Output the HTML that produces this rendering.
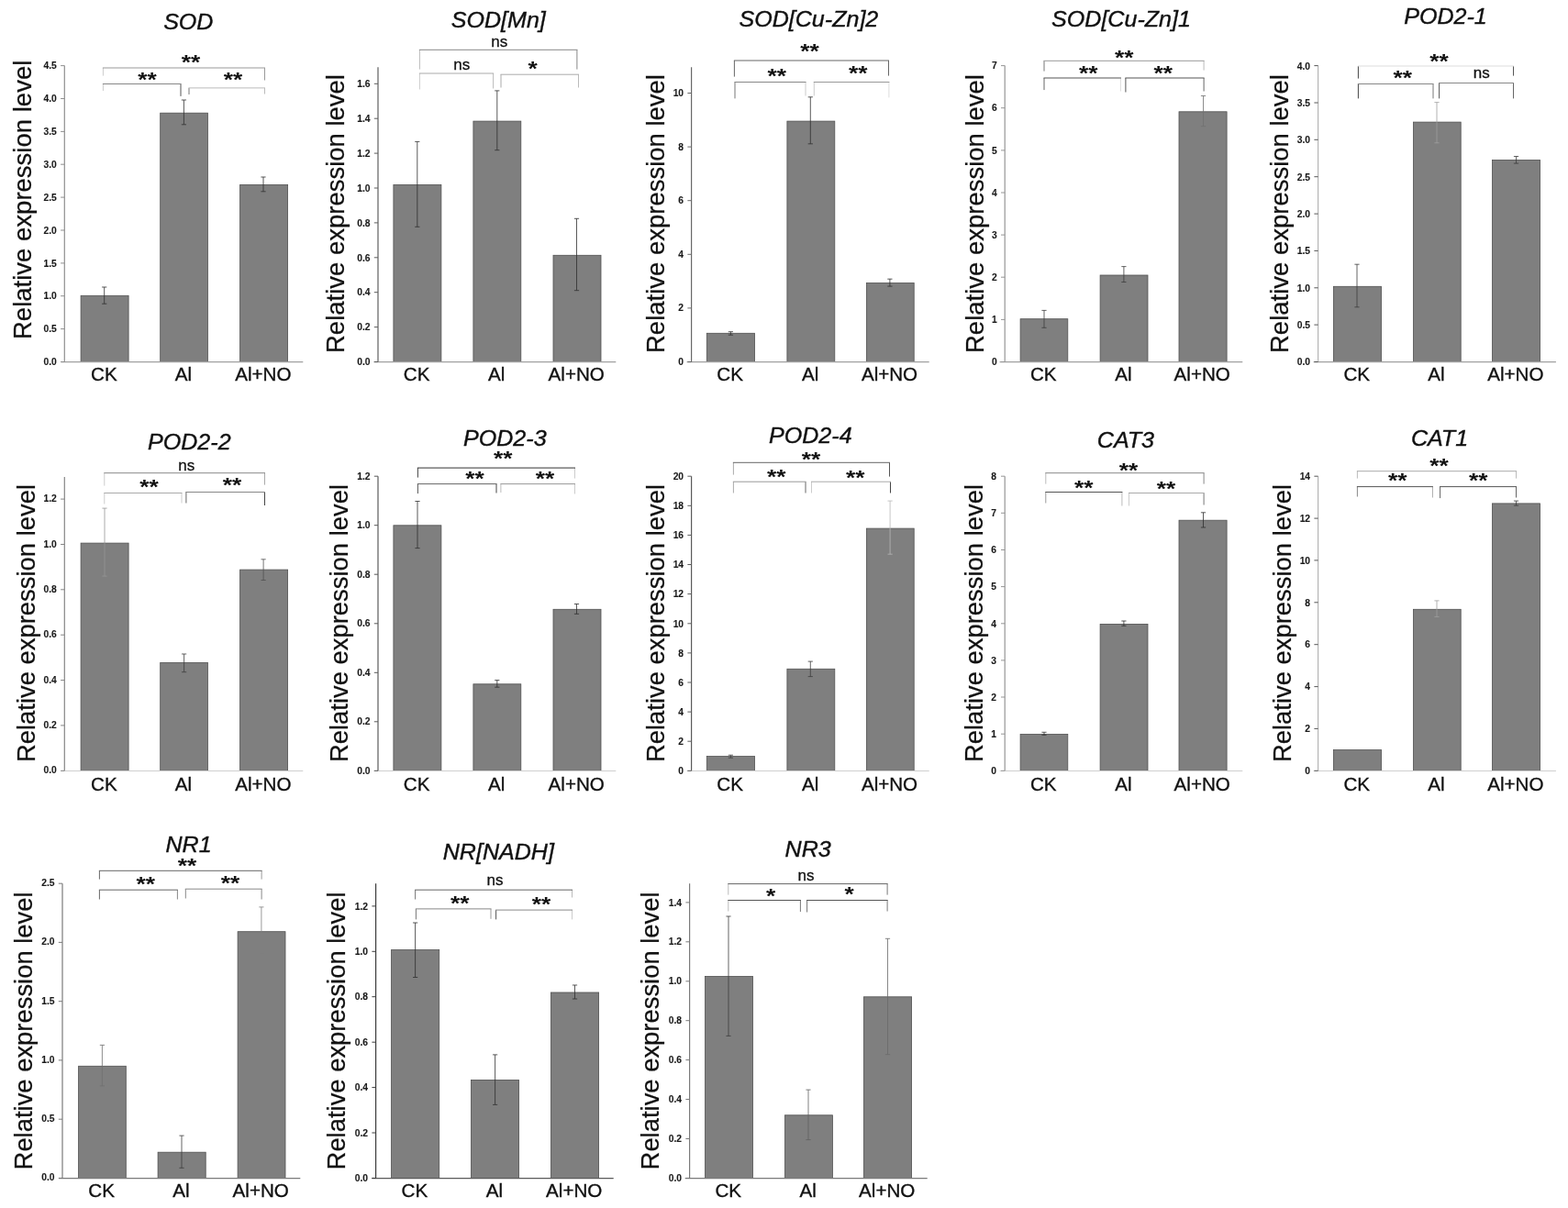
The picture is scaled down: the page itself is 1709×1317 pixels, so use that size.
<!DOCTYPE html>
<html lang="en">
<head>
<meta charset="utf-8">
<title>Relative expression level</title>
<style>
html,body{margin:0;padding:0;background:#fff}
body{width:1709px;height:1317px;overflow:hidden}
svg{display:block;font-family:"Liberation Sans",sans-serif;fill:#111}
.tk{font-size:10.3px;font-weight:bold;text-anchor:end;fill:#1a1a1a;stroke:#1a1a1a;stroke-width:.12px}
.ct{font-size:20.6px;text-anchor:middle;stroke:#111;stroke-width:.35px}
.tt{font-size:24px;font-style:italic;text-anchor:middle;stroke:#111;stroke-width:.4px}
.yl{stroke:#111;stroke-width:.25px}
.ns{font-size:17.0px;text-anchor:middle;stroke:#111;stroke-width:.3px}
.as{font-size:22.5px;font-weight:bold;text-anchor:middle}
</style>
</head>
<body>
<svg width="1709" height="1317" viewBox="0 0 1709 1317" role="img" aria-label="Relative expression level of antioxidant enzyme and nitrate reductase genes under CK, Al and Al+NO treatments">
<rect width="1709" height="1317" fill="#fff"/>
<g>
<rect x="88.1" y="322.3" width="52" height="72.2" fill="#7f7f7f" stroke="#505050" stroke-width="0.8"/>
<rect x="174.7" y="123.2" width="51.7" height="271.3" fill="#7f7f7f" stroke="#505050" stroke-width="0.8"/>
<rect x="261.6" y="201.4" width="52" height="193.1" fill="#7f7f7f" stroke="#505050" stroke-width="0.8"/>
<path d="M66.5 394.7H330.3" stroke="#a0a0a0" stroke-width="1.2" fill="none"/>
<path d="M70.3 71.6V394.5" stroke="#8f8f8f" stroke-width="1.2" fill="none"/>
<path d="M66.1 394.5H70.3M66.1 358.6H70.3M66.1 322.7H70.3M66.1 286.9H70.3M66.1 251H70.3M66.1 215.1H70.3M66.1 179.2H70.3M66.1 143.4H70.3M66.1 107.5H70.3M66.1 71.6H70.3" stroke="#8f8f8f" stroke-width="1" fill="none"/>
<text class="tk" transform="translate(61.8 398.2) scale(1.0 1)">0.0</text>
<text class="tk" transform="translate(61.8 362.3) scale(1.0 1)">0.5</text>
<text class="tk" transform="translate(61.8 326.4) scale(1.0 1)">1.0</text>
<text class="tk" transform="translate(61.8 290.6) scale(1.0 1)">1.5</text>
<text class="tk" transform="translate(61.8 254.7) scale(1.0 1)">2.0</text>
<text class="tk" transform="translate(61.8 218.8) scale(1.0 1)">2.5</text>
<text class="tk" transform="translate(61.8 182.9) scale(1.0 1)">3.0</text>
<text class="tk" transform="translate(61.8 147.1) scale(1.0 1)">3.5</text>
<text class="tk" transform="translate(61.8 111.2) scale(1.0 1)">4.0</text>
<text class="tk" transform="translate(61.8 75.3) scale(1.0 1)">4.5</text>
<path d="M113.7 313V331.2M111.1 313H116.3M111.1 331.2H116.3" stroke="#2e2e2e" stroke-width="0.8" fill="none"/>
<path d="M200.4 109V135.8M197.8 109H203M197.8 135.8H203" stroke="#2e2e2e" stroke-width="0.8" fill="none"/>
<path d="M287 193V208.8M284.4 193H289.6M284.4 208.8H289.6" stroke="#2e2e2e" stroke-width="0.8" fill="none"/>
<path d="M112.4 82.6V74" stroke="#ccc" fill="none"/>
<path d="M288.5 87.5V74" stroke="#999" fill="none"/>
<path d="M111.9 74H289" stroke="#999" fill="none"/>
<text class="as" transform="translate(208 74.9) scale(1.17 1)">**</text>
<path d="M112.4 99V91.5" stroke="#ccc" fill="none"/>
<path d="M197 104.9V91.5" stroke="#555" fill="none"/>
<path d="M111.9 91.5H197.5" stroke="#888" fill="none"/>
<text class="as" transform="translate(160.4 94.2) scale(1.17 1)">**</text>
<path d="M206 103V95.9" stroke="#777" fill="none"/>
<path d="M288.5 102.5V95.9" stroke="#bbb" fill="none"/>
<path d="M205.5 95.9H289" stroke="#bbb" fill="none"/>
<text class="as" transform="translate(254 93.8) scale(1.17 1)">**</text>
<text class="ct" transform="translate(113.3 415.4)">CK</text>
<text class="ct" transform="translate(199.8 415.4)">Al</text>
<text class="ct" transform="translate(286.8 415.4)">Al+NO</text>
<text class="tt" transform="translate(205.3 32.2) scale(1.045 1)">SOD</text>
<text class="yl" font-size="28" transform="translate(33.6 370) rotate(-90) scale(0.983 1)">Relative expression level</text>
</g>
<g>
<rect x="428.9" y="201.4" width="52" height="193.1" fill="#7f7f7f" stroke="#505050" stroke-width="0.8"/>
<rect x="515.9" y="132.1" width="51.9" height="262.4" fill="#7f7f7f" stroke="#505050" stroke-width="0.8"/>
<rect x="603" y="278.3" width="52" height="116.2" fill="#7f7f7f" stroke="#505050" stroke-width="0.8"/>
<path d="M407.6 394.7H671.3" stroke="#a0a0a0" stroke-width="1.2" fill="none"/>
<path d="M412 73.2V394.5" stroke="#5e5e5e" stroke-width="1.2" fill="none"/>
<path d="M407.8 394.5H412M407.8 356.6H412M407.8 318.7H412M407.8 280.8H412M407.8 242.9H412M407.8 205H412M407.8 167.1H412M407.8 129.2H412M407.8 91.3H412" stroke="#5e5e5e" stroke-width="1" fill="none"/>
<text class="tk" transform="translate(403.5 398.2) scale(1.0 1)">0.0</text>
<text class="tk" transform="translate(403.5 360.3) scale(1.0 1)">0.2</text>
<text class="tk" transform="translate(403.5 322.4) scale(1.0 1)">0.4</text>
<text class="tk" transform="translate(403.5 284.5) scale(1.0 1)">0.6</text>
<text class="tk" transform="translate(403.5 246.6) scale(1.0 1)">0.8</text>
<text class="tk" transform="translate(403.5 208.7) scale(1.0 1)">1.0</text>
<text class="tk" transform="translate(403.5 170.8) scale(1.0 1)">1.2</text>
<text class="tk" transform="translate(403.5 132.9) scale(1.0 1)">1.4</text>
<text class="tk" transform="translate(403.5 95) scale(1.0 1)">1.6</text>
<path d="M454.8 154.4V247.3M452.2 154.4H457.4M452.2 247.3H457.4" stroke="#2e2e2e" stroke-width="0.8" fill="none"/>
<path d="M541.8 98.9V163.7M539.2 98.9H544.4M539.2 163.7H544.4" stroke="#2e2e2e" stroke-width="0.8" fill="none"/>
<path d="M628.5 238.3V316.7M625.9 238.3H631.1M625.9 316.7H631.1" stroke="#2e2e2e" stroke-width="0.8" fill="none"/>
<path d="M457.4 75.6V54.3" stroke="#bbb" fill="none"/>
<path d="M628.9 75.6V54.3" stroke="#888" fill="none"/>
<path d="M456.9 54.3H629.4" stroke="#888" fill="none"/>
<text class="ns" x="544.3" y="50.7">ns</text>
<path d="M457.4 97.5V80" stroke="#ccc" fill="none"/>
<path d="M537.6 96.5V80" stroke="#bbb" fill="none"/>
<path d="M456.9 80H538.1" stroke="#aaa" fill="none"/>
<text class="ns" x="503.2" y="75.6">ns</text>
<path d="M546 95.5V81.2" stroke="#aaa" fill="none"/>
<path d="M630.5 95.5V81.2" stroke="#bbb" fill="none"/>
<path d="M545.5 81.2H631" stroke="#aaa" fill="none"/>
<text class="as" transform="translate(580.7 81.8) scale(1.17 1)">*</text>
<text class="ct" transform="translate(454.1 415.4)">CK</text>
<text class="ct" transform="translate(541.1 415.4)">Al</text>
<text class="ct" transform="translate(628.2 415.4)">Al+NO</text>
<text class="tt" transform="translate(543.3 29.7) scale(1.045 1)">SOD[Mn]</text>
<text class="yl" font-size="28" transform="translate(374.6 385) rotate(-90) scale(0.982 1)">Relative expression level</text>
</g>
<g>
<rect x="770.3" y="363.3" width="52.2" height="31.2" fill="#7f7f7f" stroke="#505050" stroke-width="0.8"/>
<rect x="857.9" y="132.1" width="51.9" height="262.4" fill="#7f7f7f" stroke="#505050" stroke-width="0.8"/>
<rect x="944.4" y="308.5" width="51.8" height="86" fill="#7f7f7f" stroke="#505050" stroke-width="0.8"/>
<path d="M748.6 394.7H1012.7" stroke="#a0a0a0" stroke-width="1.2" fill="none"/>
<path d="M753.6 73.2V394.5" stroke="#686868" stroke-width="1.2" fill="none"/>
<path d="M749.4 394.5H753.6M749.4 335.9H753.6M749.4 277.3H753.6M749.4 218.7H753.6M749.4 160.1H753.6M749.4 101.5H753.6" stroke="#686868" stroke-width="1" fill="none"/>
<text class="tk" transform="translate(745.1 398) scale(1.0 1)">0</text>
<text class="tk" transform="translate(745.1 339.4) scale(1.0 1)">2</text>
<text class="tk" transform="translate(745.1 280.8) scale(1.0 1)">4</text>
<text class="tk" transform="translate(745.1 222.2) scale(1.0 1)">6</text>
<text class="tk" transform="translate(745.1 163.6) scale(1.0 1)">8</text>
<text class="tk" transform="translate(745.1 105) scale(1.0 1)">10</text>
<path d="M796.4 361.7V365.2M793.8 361.7H799M793.8 365.2H799" stroke="#2e2e2e" stroke-width="0.8" fill="none"/>
<path d="M883.3 105.8V156.8M880.7 105.8H885.9M880.7 156.8H885.9" stroke="#2e2e2e" stroke-width="0.8" fill="none"/>
<path d="M969.9 304.2V312.1M967.3 304.2H972.5M967.3 312.1H972.5" stroke="#2e2e2e" stroke-width="0.8" fill="none"/>
<path d="M800.4 83.6V66" stroke="#666" fill="none"/>
<path d="M968.5 82.6V66" stroke="#666" fill="none"/>
<path d="M799.9 66H969" stroke="#666" fill="none"/>
<text class="as" transform="translate(882.5 62.9) scale(1.17 1)">**</text>
<path d="M801 107.4V89.5" stroke="#777" fill="none"/>
<path d="M878 104.5V89.5" stroke="#ccc" fill="none"/>
<path d="M800.5 89.5H878.5" stroke="#888" fill="none"/>
<text class="as" transform="translate(846.7 90.4) scale(1.17 1)">**</text>
<path d="M887.3 104.5V89.5" stroke="#ccc" fill="none"/>
<path d="M968.9 106.4V89.5" stroke="#ddd" fill="none"/>
<path d="M886.8 89.5H969.4" stroke="#999" fill="none"/>
<text class="as" transform="translate(935.3 87.4) scale(1.17 1)">**</text>
<text class="ct" transform="translate(795.6 415.4)">CK</text>
<text class="ct" transform="translate(883.1 415.4)">Al</text>
<text class="ct" transform="translate(969.5 415.4)">Al+NO</text>
<text class="tt" transform="translate(881.4 28.8) scale(1.045 1)">SOD[Cu-Zn]2</text>
<text class="yl" font-size="28" transform="translate(724.3 385) rotate(-90) scale(0.982 1)">Relative expression level</text>
</g>
<g>
<rect x="1112.1" y="347.7" width="51.7" height="46.8" fill="#7f7f7f" stroke="#505050" stroke-width="0.8"/>
<rect x="1199.1" y="300" width="51.9" height="94.5" fill="#7f7f7f" stroke="#505050" stroke-width="0.8"/>
<rect x="1285" y="121.8" width="52.1" height="272.7" fill="#7f7f7f" stroke="#505050" stroke-width="0.8"/>
<path d="M1089.6 394.7H1354.3" stroke="#a0a0a0" stroke-width="1.2" fill="none"/>
<path d="M1095.2 71.6V394.5" stroke="#969696" stroke-width="1.2" fill="none"/>
<path d="M1091 394.5H1095.2M1091 348.4H1095.2M1091 302.2H1095.2M1091 256.1H1095.2M1091 210H1095.2M1091 163.9H1095.2M1091 117.7H1095.2M1091 71.6H1095.2" stroke="#969696" stroke-width="1" fill="none"/>
<text class="tk" transform="translate(1086.7 398.2) scale(1.0 1)">0</text>
<text class="tk" transform="translate(1086.7 352.1) scale(1.0 1)">1</text>
<text class="tk" transform="translate(1086.7 305.9) scale(1.0 1)">2</text>
<text class="tk" transform="translate(1086.7 259.8) scale(1.0 1)">3</text>
<text class="tk" transform="translate(1086.7 213.7) scale(1.0 1)">4</text>
<text class="tk" transform="translate(1086.7 167.6) scale(1.0 1)">5</text>
<text class="tk" transform="translate(1086.7 121.4) scale(1.0 1)">6</text>
<text class="tk" transform="translate(1086.7 75.3) scale(1.0 1)">7</text>
<path d="M1138 338.4V357.3M1135.4 338.4H1140.6M1135.4 357.3H1140.6" stroke="#3c3c3c" stroke-width="0.8" fill="none"/>
<path d="M1224.9 290.6V307.5M1222.3 290.6H1227.5M1222.3 307.5H1227.5" stroke="#3c3c3c" stroke-width="0.8" fill="none"/>
<path d="M1311.5 104.5V137.7M1308.9 104.5H1314.1M1308.9 137.7H1314.1" stroke="#707070" stroke-width="0.8" fill="none"/>
<path d="M1138 77.6V66.3" stroke="#777" fill="none"/>
<path d="M1312.1 76.6V66.3" stroke="#bbb" fill="none"/>
<path d="M1137.5 66.3H1312.6" stroke="#999" fill="none"/>
<text class="as" transform="translate(1225.3 69.9) scale(1.17 1)">**</text>
<path d="M1138 98.1V85" stroke="#666" fill="none"/>
<path d="M1221.4 99.5V85" stroke="#ddd" fill="none"/>
<path d="M1137.5 85H1221.9" stroke="#555" fill="none"/>
<text class="as" transform="translate(1186.3 87.4) scale(1.17 1)">**</text>
<path d="M1226.9 100.5V85" stroke="#555" fill="none"/>
<path d="M1312.1 99.5V85" stroke="#666" fill="none"/>
<path d="M1226.4 85H1312.6" stroke="#555" fill="none"/>
<text class="as" transform="translate(1267.7 87.4) scale(1.17 1)">**</text>
<text class="ct" transform="translate(1137.2 415.4)">CK</text>
<text class="ct" transform="translate(1224.3 415.4)">Al</text>
<text class="ct" transform="translate(1310.2 415.4)">Al+NO</text>
<text class="tt" transform="translate(1222 28.8) scale(1.045 1)">SOD[Cu-Zn]1</text>
<text class="yl" font-size="28" transform="translate(1071.5 385) rotate(-90) scale(0.982 1)">Relative expression level</text>
</g>
<g>
<rect x="1453.4" y="312.3" width="52.1" height="82.2" fill="#7f7f7f" stroke="#505050" stroke-width="0.8"/>
<rect x="1540.5" y="133.1" width="51.7" height="261.4" fill="#7f7f7f" stroke="#505050" stroke-width="0.8"/>
<rect x="1626.5" y="174.5" width="52.1" height="220" fill="#7f7f7f" stroke="#505050" stroke-width="0.8"/>
<path d="M1431.7 394.7H1695.9" stroke="#a0a0a0" stroke-width="1.2" fill="none"/>
<path d="M1436.6 71.6V394.5" stroke="#b4b4b4" stroke-width="1.2" fill="none"/>
<path d="M1432.4 394.5H1436.6M1432.4 354.1H1436.6M1432.4 313.8H1436.6M1432.4 273.4H1436.6M1432.4 233.1H1436.6M1432.4 192.7H1436.6M1432.4 152.3H1436.6M1432.4 112H1436.6M1432.4 71.6H1436.6" stroke="#555" stroke-width="1" fill="none"/>
<text class="tk" transform="translate(1428.1 398.4) scale(1.0 1)">0.0</text>
<text class="tk" transform="translate(1428.1 358) scale(1.0 1)">0.5</text>
<text class="tk" transform="translate(1428.1 317.7) scale(1.0 1)">1.0</text>
<text class="tk" transform="translate(1428.1 277.3) scale(1.0 1)">1.5</text>
<text class="tk" transform="translate(1428.1 236.9) scale(1.0 1)">2.0</text>
<text class="tk" transform="translate(1428.1 196.6) scale(1.0 1)">2.5</text>
<text class="tk" transform="translate(1428.1 156.2) scale(1.0 1)">3.0</text>
<text class="tk" transform="translate(1428.1 115.9) scale(1.0 1)">3.5</text>
<text class="tk" transform="translate(1428.1 75.5) scale(1.0 1)">4.0</text>
<path d="M1479 288.2V334.8M1476.4 288.2H1481.6M1476.4 334.8H1481.6" stroke="#3c3c3c" stroke-width="0.8" fill="none"/>
<path d="M1566 111.6V155.8M1563.4 111.6H1568.6M1563.4 155.8H1568.6" stroke="#a0a0a0" stroke-width="0.8" fill="none"/>
<path d="M1652.5 170.5V178.1M1649.9 170.5H1655.1M1649.9 178.1H1655.1" stroke="#3c3c3c" stroke-width="0.8" fill="none"/>
<path d="M1480.4 85.6V72" stroke="#444" fill="none"/>
<path d="M1649.5 82.6V72" stroke="#555" fill="none"/>
<path d="M1479.9 72H1650" stroke="#ddd" fill="none"/>
<text class="as" transform="translate(1568.6 73.9) scale(1.17 1)">**</text>
<path d="M1480.4 107.4V91.5" stroke="#444" fill="none"/>
<path d="M1562 107.4V91.5" stroke="#777" fill="none"/>
<path d="M1479.9 91.5H1562.5" stroke="#888" fill="none"/>
<text class="as" transform="translate(1528.8 92.4) scale(1.17 1)">**</text>
<path d="M1568.6 107.4V90.5" stroke="#555" fill="none"/>
<path d="M1649.5 107.4V90.5" stroke="#666" fill="none"/>
<path d="M1568.1 90.5H1650" stroke="#888" fill="none"/>
<text class="ns" x="1614.7" y="85.2">ns</text>
<text class="ct" transform="translate(1478.7 415.4)">CK</text>
<text class="ct" transform="translate(1565.5 415.4)">Al</text>
<text class="ct" transform="translate(1651.8 415.4)">Al+NO</text>
<text class="tt" transform="translate(1575.5 25.8) scale(1.045 1)">POD2-1</text>
<text class="yl" font-size="28" transform="translate(1403.6 385) rotate(-90) scale(0.982 1)">Relative expression level</text>
</g>
<g>
<rect x="88.1" y="592.1" width="52" height="248.2" fill="#7f7f7f" stroke="#505050" stroke-width="0.8"/>
<rect x="174.7" y="722.5" width="51.7" height="117.8" fill="#7f7f7f" stroke="#505050" stroke-width="0.8"/>
<rect x="261.6" y="621.1" width="52" height="219.2" fill="#7f7f7f" stroke="#505050" stroke-width="0.8"/>
<path d="M66.5 840.5H330.3" stroke="#cfcfcf" stroke-width="1.2" fill="none"/>
<path d="M70.3 520V840.3" stroke="#858585" stroke-width="1.2" fill="none"/>
<path d="M66.1 840.3H70.3M66.1 790.9H70.3M66.1 741.6H70.3M66.1 692.2H70.3M66.1 642.8H70.3M66.1 593.5H70.3M66.1 544.1H70.3" stroke="#858585" stroke-width="1" fill="none"/>
<text class="tk" transform="translate(61.8 843.4) scale(1.0 1)">0.0</text>
<text class="tk" transform="translate(61.8 794) scale(1.0 1)">0.2</text>
<text class="tk" transform="translate(61.8 744.7) scale(1.0 1)">0.4</text>
<text class="tk" transform="translate(61.8 695.3) scale(1.0 1)">0.6</text>
<text class="tk" transform="translate(61.8 645.9) scale(1.0 1)">0.8</text>
<text class="tk" transform="translate(61.8 596.6) scale(1.0 1)">1.0</text>
<text class="tk" transform="translate(61.8 547.2) scale(1.0 1)">1.2</text>
<path d="M114 554.1V628.1M111.4 554.1H116.6M111.4 628.1H116.6" stroke="#969696" stroke-width="0.8" fill="none"/>
<path d="M200.6 713V732.7M198 713H203.2M198 732.7H203.2" stroke="#3c3c3c" stroke-width="0.8" fill="none"/>
<path d="M287.1 609.8V632.5M284.5 609.8H289.7M284.5 632.5H289.7" stroke="#505050" stroke-width="0.8" fill="none"/>
<path d="M113.8 529.6V515.7" stroke="#ccc" fill="none"/>
<path d="M288.5 528.6V515.7" stroke="#aaa" fill="none"/>
<path d="M113.3 515.7H289" stroke="#888" fill="none"/>
<text class="ns" x="203.3" y="513.3">ns</text>
<path d="M113.8 549.5V537.5" stroke="#ccc" fill="none"/>
<path d="M198 548.5V537.5" stroke="#ccc" fill="none"/>
<path d="M113.3 537.5H198.5" stroke="#aaa" fill="none"/>
<text class="as" transform="translate(162.6 537.8) scale(1.17 1)">**</text>
<path d="M202.9 548.5V536.5" stroke="#666" fill="none"/>
<path d="M288.5 551V536.5" stroke="#444" fill="none"/>
<path d="M202.4 536.5H289" stroke="#888" fill="none"/>
<text class="as" transform="translate(253.1 536.4) scale(1.17 1)">**</text>
<text class="ct" transform="translate(113.3 861.9)">CK</text>
<text class="ct" transform="translate(199.8 861.9)">Al</text>
<text class="ct" transform="translate(286.8 861.9)">Al+NO</text>
<text class="tt" transform="translate(206.3 490.3) scale(1.045 1)">POD2-2</text>
<text class="yl" font-size="28" transform="translate(37.9 831) rotate(-90) scale(0.979 1)">Relative expression level</text>
</g>
<g>
<rect x="428.9" y="572.8" width="52" height="267.5" fill="#7f7f7f" stroke="#505050" stroke-width="0.8"/>
<rect x="515.9" y="745.8" width="51.9" height="94.5" fill="#7f7f7f" stroke="#505050" stroke-width="0.8"/>
<rect x="603" y="664.3" width="52" height="176" fill="#7f7f7f" stroke="#505050" stroke-width="0.8"/>
<path d="M407.6 840.5H671.3" stroke="#cfcfcf" stroke-width="1.2" fill="none"/>
<path d="M412 519.2V840.3" stroke="#5a5a5a" stroke-width="1.2" fill="none"/>
<path d="M407.8 840.3H412M407.8 786.8H412M407.8 733.3H412M407.8 679.8H412M407.8 626.2H412M407.8 572.7H412M407.8 519.2H412" stroke="#5a5a5a" stroke-width="1" fill="none"/>
<text class="tk" transform="translate(403.5 843.9) scale(1.0 1)">0.0</text>
<text class="tk" transform="translate(403.5 790.4) scale(1.0 1)">0.2</text>
<text class="tk" transform="translate(403.5 736.9) scale(1.0 1)">0.4</text>
<text class="tk" transform="translate(403.5 683.4) scale(1.0 1)">0.6</text>
<text class="tk" transform="translate(403.5 629.8) scale(1.0 1)">0.8</text>
<text class="tk" transform="translate(403.5 576.3) scale(1.0 1)">1.0</text>
<text class="tk" transform="translate(403.5 522.8) scale(1.0 1)">1.2</text>
<path d="M455 546.5V597.6M452.4 546.5H457.6M452.4 597.6H457.6" stroke="#2e2e2e" stroke-width="0.8" fill="none"/>
<path d="M541.8 741.6V749.2M539.2 741.6H544.4M539.2 749.2H544.4" stroke="#2e2e2e" stroke-width="0.8" fill="none"/>
<path d="M628.5 658.5V669.3M625.9 658.5H631.1M625.9 669.3H631.1" stroke="#2e2e2e" stroke-width="0.8" fill="none"/>
<path d="M455.4 520.6V510.1" stroke="#444" fill="none"/>
<path d="M626.5 521.6V510.1" stroke="#ccc" fill="none"/>
<path d="M454.9 510.1H627" stroke="#333" fill="none"/>
<text class="as" transform="translate(548.3 507) scale(1.17 1)">**</text>
<path d="M455.4 538.1V527.6" stroke="#555" fill="none"/>
<path d="M541 537.5V527.6" stroke="#444" fill="none"/>
<path d="M454.9 527.6H541.5" stroke="#666" fill="none"/>
<text class="as" transform="translate(517.5 528.8) scale(1.17 1)">**</text>
<path d="M545.9 537V527.6" stroke="#bbb" fill="none"/>
<path d="M626.5 538.5V527.6" stroke="#ccc" fill="none"/>
<path d="M545.4 527.6H627" stroke="#999" fill="none"/>
<text class="as" transform="translate(594.1 528.8) scale(1.17 1)">**</text>
<text class="ct" transform="translate(454.1 861.9)">CK</text>
<text class="ct" transform="translate(541.1 861.9)">Al</text>
<text class="ct" transform="translate(628.2 861.9)">Al+NO</text>
<text class="tt" transform="translate(550.3 485.7) scale(1.045 1)">POD2-3</text>
<text class="yl" font-size="28" transform="translate(378.9 831) rotate(-90) scale(0.979 1)">Relative expression level</text>
</g>
<g>
<rect x="770.3" y="824.6" width="52.2" height="15.7" fill="#7f7f7f" stroke="#505050" stroke-width="0.8"/>
<rect x="857.9" y="729.3" width="51.9" height="111" fill="#7f7f7f" stroke="#505050" stroke-width="0.8"/>
<rect x="944.4" y="576.1" width="51.8" height="264.2" fill="#7f7f7f" stroke="#505050" stroke-width="0.8"/>
<path d="M748.6 840.5H1012.7" stroke="#cfcfcf" stroke-width="1.2" fill="none"/>
<path d="M753.6 519.2V840.3" stroke="#5a5a5a" stroke-width="1.2" fill="none"/>
<path d="M749.4 840.3H753.6M749.4 808.2H753.6M749.4 776.1H753.6M749.4 744H753.6M749.4 711.9H753.6M749.4 679.8H753.6M749.4 647.6H753.6M749.4 615.5H753.6M749.4 583.4H753.6M749.4 551.3H753.6M749.4 519.2H753.6" stroke="#5a5a5a" stroke-width="1" fill="none"/>
<text class="tk" transform="translate(745.1 844) scale(1.0 1)">0</text>
<text class="tk" transform="translate(745.1 811.9) scale(1.0 1)">2</text>
<text class="tk" transform="translate(745.1 779.8) scale(1.0 1)">4</text>
<text class="tk" transform="translate(745.1 747.7) scale(1.0 1)">6</text>
<text class="tk" transform="translate(745.1 715.6) scale(1.0 1)">8</text>
<text class="tk" transform="translate(745.1 683.5) scale(1.0 1)">10</text>
<text class="tk" transform="translate(745.1 651.3) scale(1.0 1)">12</text>
<text class="tk" transform="translate(745.1 619.2) scale(1.0 1)">14</text>
<text class="tk" transform="translate(745.1 587.1) scale(1.0 1)">16</text>
<text class="tk" transform="translate(745.1 555) scale(1.0 1)">18</text>
<text class="tk" transform="translate(745.1 522.9) scale(1.0 1)">20</text>
<path d="M796.4 823.2V826.2M793.8 823.2H799M793.8 826.2H799" stroke="#3c3c3c" stroke-width="0.8" fill="none"/>
<path d="M883.3 721.1V737.6M880.7 721.1H885.9M880.7 737.6H885.9" stroke="#3c3c3c" stroke-width="0.8" fill="none"/>
<path d="M970.1 546.1V604.2M967.5 546.1H972.7M967.5 604.2H972.7" stroke="#b8b8b8" stroke-width="0.8" fill="none"/>
<path d="M799.4 517.6V504.3" stroke="#aaa" fill="none"/>
<path d="M969.5 519.6V504.3" stroke="#555" fill="none"/>
<path d="M798.9 504.3H970" stroke="#666" fill="none"/>
<text class="as" transform="translate(883.9 508.3) scale(1.17 1)">**</text>
<path d="M799.4 537.5V525.2" stroke="#aaa" fill="none"/>
<path d="M878 537.5V525.2" stroke="#666" fill="none"/>
<path d="M798.9 525.2H878.5" stroke="#999" fill="none"/>
<text class="as" transform="translate(846.3 527.2) scale(1.17 1)">**</text>
<path d="M884.5 537.5V525.2" stroke="#ccc" fill="none"/>
<path d="M970.5 537.5V525.2" stroke="#444" fill="none"/>
<path d="M884 525.2H971" stroke="#aaa" fill="none"/>
<text class="as" transform="translate(932.3 527.8) scale(1.17 1)">**</text>
<text class="ct" transform="translate(795.6 861.9)">CK</text>
<text class="ct" transform="translate(883.1 861.9)">Al</text>
<text class="ct" transform="translate(969.5 861.9)">Al+NO</text>
<text class="tt" transform="translate(883.3 482.7) scale(1.045 1)">POD2-4</text>
<text class="yl" font-size="28" transform="translate(723.9 831) rotate(-90) scale(0.979 1)">Relative expression level</text>
</g>
<g>
<rect x="1112.1" y="800.5" width="51.7" height="39.8" fill="#7f7f7f" stroke="#505050" stroke-width="0.8"/>
<rect x="1199.1" y="680.4" width="51.9" height="159.9" fill="#7f7f7f" stroke="#505050" stroke-width="0.8"/>
<rect x="1285" y="567.2" width="52.1" height="273.1" fill="#7f7f7f" stroke="#505050" stroke-width="0.8"/>
<path d="M1089.6 840.5H1354.3" stroke="#cfcfcf" stroke-width="1.2" fill="none"/>
<path d="M1095.2 519.2V840.3" stroke="#969696" stroke-width="1.2" fill="none"/>
<path d="M1091 840.3H1095.2M1091 800.2H1095.2M1091 760H1095.2M1091 719.9H1095.2M1091 679.8H1095.2M1091 639.6H1095.2M1091 599.5H1095.2M1091 559.3H1095.2M1091 519.2H1095.2" stroke="#969696" stroke-width="1" fill="none"/>
<text class="tk" transform="translate(1086 844) scale(1.0 1)">0</text>
<text class="tk" transform="translate(1086 803.9) scale(1.0 1)">1</text>
<text class="tk" transform="translate(1086 763.7) scale(1.0 1)">2</text>
<text class="tk" transform="translate(1086 723.6) scale(1.0 1)">3</text>
<text class="tk" transform="translate(1086 683.5) scale(1.0 1)">4</text>
<text class="tk" transform="translate(1086 643.3) scale(1.0 1)">5</text>
<text class="tk" transform="translate(1086 603.2) scale(1.0 1)">6</text>
<text class="tk" transform="translate(1086 563) scale(1.0 1)">7</text>
<text class="tk" transform="translate(1086 522.9) scale(1.0 1)">8</text>
<path d="M1138 798.3V801.3M1135.4 798.3H1140.6M1135.4 801.3H1140.6" stroke="#2e2e2e" stroke-width="0.8" fill="none"/>
<path d="M1224.9 677V682.3M1222.3 677H1227.5M1222.3 682.3H1227.5" stroke="#2e2e2e" stroke-width="0.8" fill="none"/>
<path d="M1311.5 558.8V575M1308.9 558.8H1314.1M1308.9 575H1314.1" stroke="#2e2e2e" stroke-width="0.8" fill="none"/>
<path d="M1139.8 527.6V515.7" stroke="#bbb" fill="none"/>
<path d="M1312.1 527.6V515.7" stroke="#888" fill="none"/>
<path d="M1139.3 515.7H1312.6" stroke="#888" fill="none"/>
<text class="as" transform="translate(1229.9 519.9) scale(1.17 1)">**</text>
<path d="M1139.8 548.5V536.5" stroke="#999" fill="none"/>
<path d="M1222.9 551.5V536.5" stroke="#bbb" fill="none"/>
<path d="M1139.3 536.5H1223.4" stroke="#555" fill="none"/>
<text class="as" transform="translate(1181.2 539.2) scale(1.17 1)">**</text>
<path d="M1230.5 551.5V537.5" stroke="#ccc" fill="none"/>
<path d="M1312.1 550.5V537.5" stroke="#777" fill="none"/>
<path d="M1230 537.5H1312.6" stroke="#aaa" fill="none"/>
<text class="as" transform="translate(1271.1 540.4) scale(1.17 1)">**</text>
<text class="ct" transform="translate(1137.2 861.9)">CK</text>
<text class="ct" transform="translate(1224.3 861.9)">Al</text>
<text class="ct" transform="translate(1310.2 861.9)">Al+NO</text>
<text class="tt" transform="translate(1226.9 487.7) scale(1.045 1)">CAT3</text>
<text class="yl" font-size="28" transform="translate(1070.8 831) rotate(-90) scale(0.979 1)">Relative expression level</text>
</g>
<g>
<rect x="1453.4" y="817.6" width="52.1" height="22.7" fill="#7f7f7f" stroke="#505050" stroke-width="0.8"/>
<rect x="1540.5" y="664.3" width="51.7" height="176" fill="#7f7f7f" stroke="#505050" stroke-width="0.8"/>
<rect x="1626.5" y="548.9" width="52.1" height="291.4" fill="#7f7f7f" stroke="#505050" stroke-width="0.8"/>
<path d="M1431.7 840.5H1695.9" stroke="#cfcfcf" stroke-width="1.2" fill="none"/>
<path d="M1436.6 519.2V840.3" stroke="#b4b4b4" stroke-width="1.2" fill="none"/>
<path d="M1432.4 840.3H1436.6M1432.4 794.4H1436.6M1432.4 748.6H1436.6M1432.4 702.7H1436.6M1432.4 656.8H1436.6M1432.4 610.9H1436.6M1432.4 565.1H1436.6M1432.4 519.2H1436.6" stroke="#555" stroke-width="1" fill="none"/>
<text class="tk" transform="translate(1428.1 844) scale(1.0 1)">0</text>
<text class="tk" transform="translate(1428.1 798.1) scale(1.0 1)">2</text>
<text class="tk" transform="translate(1428.1 752.3) scale(1.0 1)">4</text>
<text class="tk" transform="translate(1428.1 706.4) scale(1.0 1)">6</text>
<text class="tk" transform="translate(1428.1 660.5) scale(1.0 1)">8</text>
<text class="tk" transform="translate(1428.1 614.6) scale(1.0 1)">10</text>
<text class="tk" transform="translate(1428.1 568.8) scale(1.0 1)">12</text>
<text class="tk" transform="translate(1428.1 522.9) scale(1.0 1)">14</text>
<path d="M1566 654.9V672.4M1563.4 654.9H1568.6M1563.4 672.4H1568.6" stroke="#a0a0a0" stroke-width="0.8" fill="none"/>
<path d="M1652.5 546.1V551.1M1649.9 546.1H1655.1M1649.9 551.1H1655.1" stroke="#3c3c3c" stroke-width="0.8" fill="none"/>
<path d="M1479.4 521.6V513.7" stroke="#bbb" fill="none"/>
<path d="M1652.5 521.6V513.7" stroke="#bbb" fill="none"/>
<path d="M1478.9 513.7H1653" stroke="#aaa" fill="none"/>
<text class="as" transform="translate(1568.6 515.3) scale(1.17 1)">**</text>
<path d="M1479.4 541.5V530.6" stroke="#888" fill="none"/>
<path d="M1561.4 542.5V530.6" stroke="#aaa" fill="none"/>
<path d="M1478.9 530.6H1561.9" stroke="#555" fill="none"/>
<text class="as" transform="translate(1523.2 530.8) scale(1.17 1)">**</text>
<path d="M1569.6 543.1V530.6" stroke="#666" fill="none"/>
<path d="M1652.5 542.5V530.6" stroke="#666" fill="none"/>
<path d="M1569.1 530.6H1653" stroke="#555" fill="none"/>
<text class="as" transform="translate(1611.3 530.8) scale(1.17 1)">**</text>
<text class="ct" transform="translate(1478.7 861.9)">CK</text>
<text class="ct" transform="translate(1565.5 861.9)">Al</text>
<text class="ct" transform="translate(1651.8 861.9)">Al+NO</text>
<text class="tt" transform="translate(1569 485.7) scale(1.045 1)">CAT1</text>
<text class="yl" font-size="28" transform="translate(1406.9 831) rotate(-90) scale(0.979 1)">Relative expression level</text>
</g>
<g>
<rect x="85.6" y="1162.3" width="51.7" height="122.1" fill="#7f7f7f" stroke="#505050" stroke-width="0.8"/>
<rect x="172.1" y="1256.2" width="52.1" height="28.2" fill="#7f7f7f" stroke="#505050" stroke-width="0.8"/>
<rect x="259.1" y="1015.7" width="51.9" height="268.7" fill="#7f7f7f" stroke="#505050" stroke-width="0.8"/>
<path d="M64.1 1284.6H327.3" stroke="#7a7a7a" stroke-width="1.2" fill="none"/>
<path d="M68 963.2V1284.4" stroke="#7a7a7a" stroke-width="1.2" fill="none"/>
<path d="M63.8 1284.4H68M63.8 1220.2H68M63.8 1155.9H68M63.8 1091.7H68M63.8 1027.4H68M63.8 963.2H68" stroke="#7a7a7a" stroke-width="1" fill="none"/>
<text class="tk" transform="translate(59.5 1287.4) scale(1.0 1)">0.0</text>
<text class="tk" transform="translate(59.5 1223.2) scale(1.0 1)">0.5</text>
<text class="tk" transform="translate(59.5 1158.9) scale(1.0 1)">1.0</text>
<text class="tk" transform="translate(59.5 1094.7) scale(1.0 1)">1.5</text>
<text class="tk" transform="translate(59.5 1030.4) scale(1.0 1)">2.0</text>
<text class="tk" transform="translate(59.5 966.2) scale(1.0 1)">2.5</text>
<path d="M111.4 1139.4V1183.9M108.8 1139.4H114M108.8 1183.9H114" stroke="#707070" stroke-width="0.8" fill="none"/>
<path d="M198 1238.1V1273.3M195.4 1238.1H200.6M195.4 1273.3H200.6" stroke="#3c3c3c" stroke-width="0.8" fill="none"/>
<path d="M284.9 988.9V1040.2M282.3 988.9H287.5M282.3 1040.2H287.5" stroke="#808080" stroke-width="0.8" fill="none"/>
<path d="M108.4 958.6V949.3" stroke="#666" fill="none"/>
<path d="M285.1 958.6V949.3" stroke="#999" fill="none"/>
<path d="M107.9 949.3H285.6" stroke="#666" fill="none"/>
<text class="as" transform="translate(203.9 950.9) scale(1.17 1)">**</text>
<path d="M108.4 980.5V970.2" stroke="#666" fill="none"/>
<path d="M193.4 980.5V970.2" stroke="#888" fill="none"/>
<path d="M107.9 970.2H193.9" stroke="#666" fill="none"/>
<text class="as" transform="translate(158.8 971.2) scale(1.17 1)">**</text>
<path d="M202.3 979.5V969.2" stroke="#888" fill="none"/>
<path d="M285.1 980.5V969.2" stroke="#888" fill="none"/>
<path d="M201.8 969.2H285.6" stroke="#888" fill="none"/>
<text class="as" transform="translate(251.1 970.2) scale(1.17 1)">**</text>
<text class="ct" transform="translate(110.6 1305.2)">CK</text>
<text class="ct" transform="translate(197.3 1305.2)">Al</text>
<text class="ct" transform="translate(284.2 1305.2)">Al+NO</text>
<text class="tt" transform="translate(205.5 928.7) scale(1.045 1)">NR1</text>
<text class="yl" font-size="28" transform="translate(34.9 1275.4) rotate(-90) scale(0.979 1)">Relative expression level</text>
</g>
<g>
<rect x="426.6" y="1035.6" width="52.1" height="248.8" fill="#7f7f7f" stroke="#505050" stroke-width="0.8"/>
<rect x="513.5" y="1177.4" width="52.1" height="107" fill="#7f7f7f" stroke="#505050" stroke-width="0.8"/>
<rect x="600.4" y="1082" width="52.2" height="202.4" fill="#7f7f7f" stroke="#505050" stroke-width="0.8"/>
<path d="M405.3 1284.6H668.7" stroke="#5a5a5a" stroke-width="1.2" fill="none"/>
<path d="M409.6 963.2V1284.4" stroke="#3c3c3c" stroke-width="1.2" fill="none"/>
<path d="M405.4 1284.4H409.6M405.4 1235H409.6M405.4 1185.6H409.6M405.4 1136.2H409.6M405.4 1086.7H409.6M405.4 1037.3H409.6M405.4 987.9H409.6" stroke="#3c3c3c" stroke-width="1" fill="none"/>
<text class="tk" transform="translate(401.1 1288) scale(1.0 1)">0.0</text>
<text class="tk" transform="translate(401.1 1238.6) scale(1.0 1)">0.2</text>
<text class="tk" transform="translate(401.1 1189.2) scale(1.0 1)">0.4</text>
<text class="tk" transform="translate(401.1 1139.8) scale(1.0 1)">0.6</text>
<text class="tk" transform="translate(401.1 1090.3) scale(1.0 1)">0.8</text>
<text class="tk" transform="translate(401.1 1040.9) scale(1.0 1)">1.0</text>
<text class="tk" transform="translate(401.1 991.5) scale(1.0 1)">1.2</text>
<path d="M452.6 1006V1065.5M450 1006H455.2M450 1065.5H455.2" stroke="#2e2e2e" stroke-width="0.8" fill="none"/>
<path d="M539.6 1149.9V1204.4M537 1149.9H542.2M537 1204.4H542.2" stroke="#2e2e2e" stroke-width="0.8" fill="none"/>
<path d="M626.5 1074V1089M623.9 1074H629.1M623.9 1089H629.1" stroke="#2e2e2e" stroke-width="0.8" fill="none"/>
<path d="M452.6 980.5V970.2" stroke="#777" fill="none"/>
<path d="M623.5 978.5V970.2" stroke="#bbb" fill="none"/>
<path d="M452.1 970.2H624" stroke="#666" fill="none"/>
<text class="ns" x="539.6" y="965.2">ns</text>
<path d="M453.4 1002.4V990.9" stroke="#777" fill="none"/>
<path d="M535 1001.8V990.9" stroke="#999" fill="none"/>
<path d="M452.9 990.9H535.5" stroke="#888" fill="none"/>
<text class="as" transform="translate(501.2 992.1) scale(1.17 1)">**</text>
<path d="M540.6 1002.4V992.1" stroke="#555" fill="none"/>
<path d="M623.5 1002.4V992.1" stroke="#ccc" fill="none"/>
<path d="M540.1 992.1H624" stroke="#888" fill="none"/>
<text class="as" transform="translate(590.1 993.1) scale(1.17 1)">**</text>
<text class="ct" transform="translate(451.8 1305.2)">CK</text>
<text class="ct" transform="translate(538.8 1305.2)">Al</text>
<text class="ct" transform="translate(625.7 1305.2)">Al+NO</text>
<text class="tt" transform="translate(543.3 936.7) scale(1.045 1)">NR[NADH]</text>
<text class="yl" font-size="28" transform="translate(376.4 1275.4) rotate(-90) scale(0.979 1)">Relative expression level</text>
</g>
<g>
<rect x="768.5" y="1064.5" width="52" height="219.9" fill="#7f7f7f" stroke="#505050" stroke-width="0.8"/>
<rect x="855.5" y="1215.8" width="51.9" height="68.6" fill="#7f7f7f" stroke="#505050" stroke-width="0.8"/>
<rect x="941.4" y="1086.8" width="52.2" height="197.6" fill="#7f7f7f" stroke="#505050" stroke-width="0.8"/>
<path d="M746.7 1284.6H1010.7" stroke="#7a7a7a" stroke-width="1.2" fill="none"/>
<path d="M751.6 963.2V1284.4" stroke="#7a7a7a" stroke-width="1.2" fill="none"/>
<path d="M747.4 1284.4H751.6M747.4 1241.5H751.6M747.4 1198.5H751.6M747.4 1155.6H751.6M747.4 1112.7H751.6M747.4 1069.8H751.6M747.4 1026.8H751.6M747.4 983.9H751.6" stroke="#7a7a7a" stroke-width="1" fill="none"/>
<text class="tk" transform="translate(743.1 1288) scale(1.0 1)">0.0</text>
<text class="tk" transform="translate(743.1 1245.1) scale(1.0 1)">0.2</text>
<text class="tk" transform="translate(743.1 1202.1) scale(1.0 1)">0.4</text>
<text class="tk" transform="translate(743.1 1159.2) scale(1.0 1)">0.6</text>
<text class="tk" transform="translate(743.1 1116.3) scale(1.0 1)">0.8</text>
<text class="tk" transform="translate(743.1 1073.4) scale(1.0 1)">1.0</text>
<text class="tk" transform="translate(743.1 1030.4) scale(1.0 1)">1.2</text>
<text class="tk" transform="translate(743.1 987.5) scale(1.0 1)">1.4</text>
<path d="M794 999V1129.4M791.4 999H796.6M791.4 1129.4H796.6" stroke="#3c3c3c" stroke-width="0.8" fill="none"/>
<path d="M881 1188.1V1242.6M878.4 1188.1H883.6M878.4 1242.6H883.6" stroke="#606060" stroke-width="0.8" fill="none"/>
<path d="M967.5 1023.3V1149.7M964.9 1023.3H970.1M964.9 1149.7H970.1" stroke="#6a6a6a" stroke-width="0.8" fill="none"/>
<path d="M793.8 975.6V963.6" stroke="#bbb" fill="none"/>
<path d="M967.1 975.6V963.6" stroke="#777" fill="none"/>
<path d="M793.3 963.6H967.6" stroke="#666" fill="none"/>
<text class="ns" x="878.6" y="960.2">ns</text>
<path d="M793.8 993.5V981.5" stroke="#bbb" fill="none"/>
<path d="M872.4 994V981.5" stroke="#777" fill="none"/>
<path d="M793.3 981.5H872.9" stroke="#555" fill="none"/>
<text class="as" transform="translate(840.2 983.8) scale(1.17 1)">*</text>
<path d="M879.6 994.5V981.5" stroke="#777" fill="none"/>
<path d="M967.1 993.5V981.5" stroke="#777" fill="none"/>
<path d="M879.1 981.5H967.6" stroke="#555" fill="none"/>
<text class="as" transform="translate(925.7 982.4) scale(1.17 1)">*</text>
<text class="ct" transform="translate(793.7 1305.2)">CK</text>
<text class="ct" transform="translate(880.7 1305.2)">Al</text>
<text class="ct" transform="translate(966.7 1305.2)">Al+NO</text>
<text class="tt" transform="translate(880.6 933.7) scale(1.045 1)">NR3</text>
<text class="yl" font-size="28" transform="translate(718.4 1275.4) rotate(-90) scale(0.979 1)">Relative expression level</text>
</g>
</svg>
</body>
</html>
